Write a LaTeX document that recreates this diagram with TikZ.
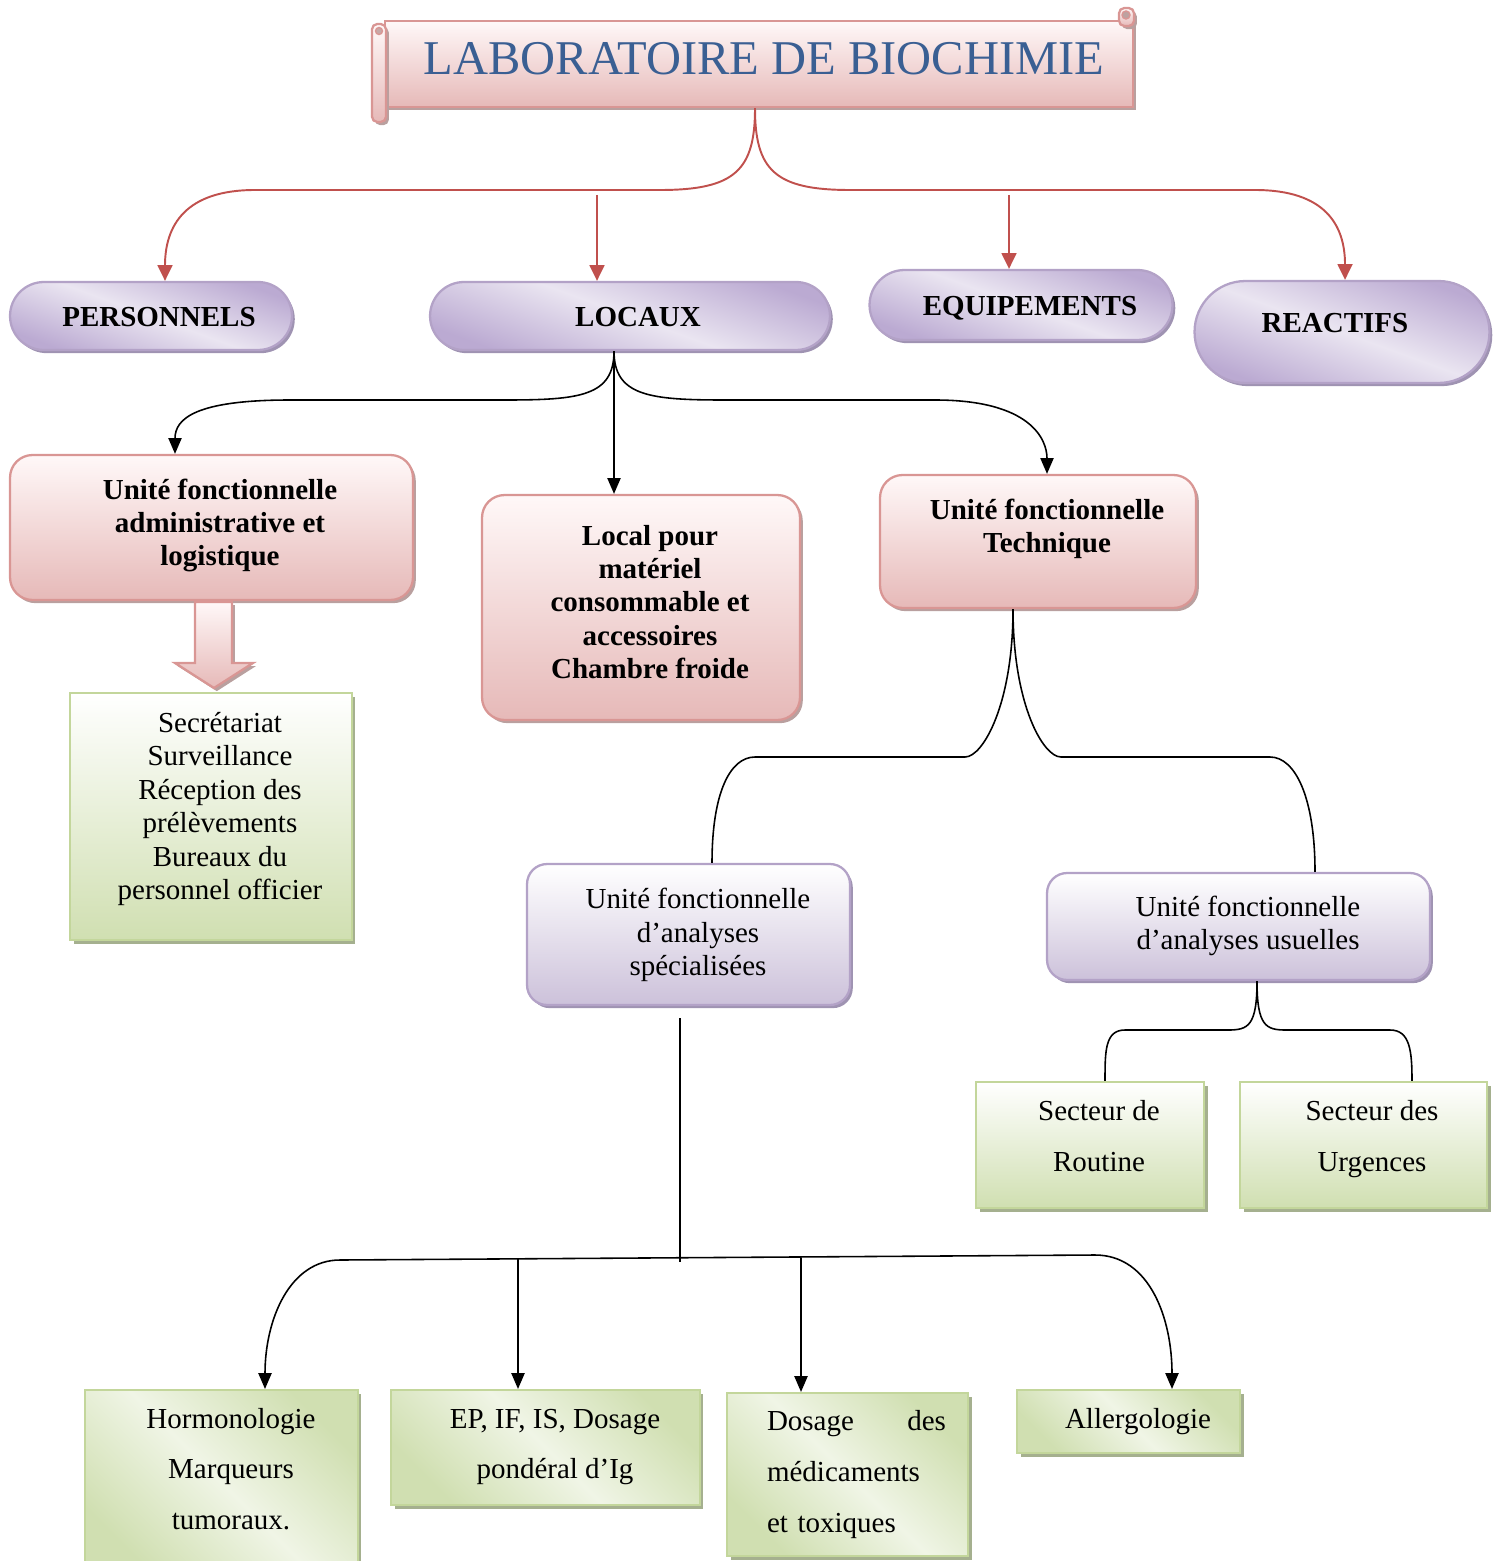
\documentclass[tikz,border=0pt]{standalone}
\usepackage{fontspec}
\setmainfont{Liberation Serif}
\usetikzlibrary{shapes.misc,shadows,arrows.meta}

\definecolor{linkred}{HTML}{C0504D}
\definecolor{pinkedge}{HTML}{D99694}
\definecolor{pinkfill}{HTML}{E6B9B8}
\definecolor{pinklight}{HTML}{FFF8F8}
\definecolor{pinkshadow}{HTML}{B9A09F}
\definecolor{lilacedge}{HTML}{B3A2C7}
\definecolor{lilacdark}{HTML}{BBAAD2}
\definecolor{lilaclight}{HTML}{EAE5F1}
\definecolor{lilacfill}{HTML}{CCC1DA}
\definecolor{lilacshadow}{HTML}{9F93B2}
\definecolor{greenedge}{HTML}{C3D69B}
\definecolor{greenfill}{HTML}{D0DFB1}
\definecolor{greenlight}{HTML}{F0F5E6}
\definecolor{greenshadow}{HTML}{A5B08F}
\definecolor{titleblue}{HTML}{3A5F93}

\tikzset{
  x=0.02cm, y=-0.02cm,
  txt/.style={font=\fontsize{16.5}{19}\selectfont, align=center, inner sep=0pt},
  btxt/.style={font=\fontsize{16.5}{19}\selectfont\bfseries, align=center, inner sep=0pt},
  widetxt/.style={font=\fontsize{16.5}{28.8}\selectfont, align=center, inner sep=0pt},
  pill/.style={rounded rectangle, draw=lilacedge, line width=1.3pt, inner sep=0pt,
    top color=lilacdark, bottom color=lilacdark, middle color=lilaclight, shading angle=-20,
    drop shadow={shadow xshift=1.6pt, shadow yshift=-1.8pt, fill=lilacshadow, opacity=1}},
  pinkbox/.style={rectangle, rounded corners=0.45cm, draw=pinkedge, line width=1.3pt, inner sep=0pt,
    top color=pinklight, bottom color=pinkfill,
    drop shadow={shadow xshift=1.6pt, shadow yshift=-1.8pt, fill=pinkshadow, opacity=1}},
  lilacbox/.style={rectangle, rounded corners=0.4cm, draw=lilacedge, line width=1.3pt, inner sep=0pt,
    top color=white, bottom color=lilacfill,
    drop shadow={shadow xshift=1.6pt, shadow yshift=-1.8pt, fill=lilacshadow, opacity=1}},
  greenbox/.style={rectangle, draw=greenedge, line width=1.2pt, inner sep=0pt,
    top color=white, bottom color=greenfill,
    drop shadow={shadow xshift=2pt, shadow yshift=-2pt, fill=greenshadow, opacity=1}},
  greenbandbox/.style={greenbox, top color=greenfill, bottom color=greenfill,
    middle color=greenlight, shading angle=-45},
  redlink/.style={draw=linkred, line width=1.1pt},
  redarrow/.style={redlink, -{Triangle[width=8.5pt,length=9pt]}},
  blklink/.style={draw=black, line width=0.9pt},
  blkarrow/.style={blklink, -{Triangle[width=7.5pt,length=9pt]}},
}

\begin{document}
\begin{tikzpicture}
\useasboundingbox (0,0) rectangle (1501,1561);

% ---- title scroll ----
\node[pinkbox, rounded corners=0pt, minimum width=14.96cm, minimum height=1.72cm] (title) at (759,64) {};
\path[pinkbox, rounded corners=3pt] (372,24) rectangle (386,122);
\filldraw[draw=pinkedge, fill=pinkfill!70!gray, line width=0.8pt] (379,31) circle (3.5);
\path[pinkbox, rounded corners=3pt] (1119,8) rectangle (1134,26);
\filldraw[draw=pinkedge, fill=pinkfill!60!gray, line width=0.8pt] (1126,15) circle (4);
\node[inner sep=0pt, font=\fontsize{27.6}{30}\selectfont, text=titleblue] (titleT) at (764,59) {LABORATOIRE DE BIOCHIMIE};

% ---- first level ----
\node[pill, minimum width=5.64cm, minimum height=1.36cm] (pers) at (151,316) {};
\node[btxt] (persT) at (159,317) {PERSONNELS};
\node[pill, minimum width=8cm, minimum height=1.36cm] (loc) at (630,316) {};
\node[btxt] (locT) at (638,317) {LOCAUX};
\node[pill, minimum width=6.06cm, minimum height=1.4cm] (equip) at (1021,305) {};
\node[btxt] (equipT) at (1030,308) {EQUIPEMENTS};
\node[pill, minimum width=5.9cm, minimum height=2.04cm] (react) at (1342,332) {};
\node[btxt] (reactT) at (1335,323) {REACTIFS};

% red links from the title
\coordinate (locIn) at (597,195);
\coordinate (equipIn) at (1009,195);
\draw[redarrow] (title.south -| 755,0) .. controls +(0,62) and +(75,0) .. (660,190)
  -- (255,190) .. controls +(-70,0) and +(0,-55) .. (pers.north -| 165,0);
\draw[redarrow] (title.south -| 755,0) .. controls +(0,62) and +(-75,0) .. (850,190)
  -- (1255,190) .. controls +(70,0) and +(0,-55) .. (react.north -| 1345,0);
\draw[redarrow] (locIn) -- (loc.north -| 597,0);
\draw[redarrow] (equipIn) -- (equip.north -| 1009,0);

% ---- LOCAUX ----
\node[pinkbox, minimum width=8.06cm, minimum height=2.9cm] (admin) at (211.5,527.5) {};
\node[btxt] (adminT) at (220,525.5) {Unité fonctionnelle\\administrative et\\logistique};
\node[pinkbox, minimum width=6.36cm, minimum height=4.5cm] (local) at (641,607.5) {};
\node[btxt] (localT) at (650,602) {Local pour\\matériel\\consommable et\\accessoires\\Chambre froide};
\node[pinkbox, minimum width=6.32cm, minimum height=2.66cm] (tech) at (1038,541.5) {};
\node[btxt] (techT) at (1047,529) {Unité fonctionnelle\\Technique};

\draw[blkarrow] (loc.south -| 614,0) .. controls +(0,45) and +(75,0) .. (505,400)
  -- (290,400) .. controls +(-95,0) and +(0,-35) .. (admin.north -| 175,0);
\draw[blkarrow] (loc.south -| 614,0) -- (local.north -| 614,0);
\draw[blkarrow] (loc.south -| 614,0) .. controls +(0,45) and +(-75,0) .. (725,400)
  -- (935,400) .. controls +(95,0) and +(0,-35) .. (tech.north -| 1047,0);

% block arrow and its box
\path[pinkbox, rounded corners=0pt] (195,602) -- (232,602) -- (232,663) -- (253,663)
  -- (214,688) -- (175,663) -- (195,663) -- cycle;
\node[greenbox, minimum width=5.64cm, minimum height=4.94cm] (secr) at (211,816.5) {};
\node[txt] (secrT) at (220,809) {Secrétariat\\Surveillance\\Réception des\\prélèvements\\Bureaux du\\personnel officier};

% ---- technical unit ----
\node[lilacbox, minimum width=6.46cm, minimum height=2.82cm] (spec) at (688.5,934.5) {};
\node[txt] (specT) at (698,935) {Unité fonctionnelle\\d’analyses\\spécialisées};
\node[lilacbox, minimum width=7.66cm, minimum height=2.14cm] (usu) at (1238.5,926.5) {};
\node[txt] (usuT) at (1248,926) {Unité fonctionnelle\\d’analyses usuelles};

\draw[blklink] (tech.south -| 1013,0) .. controls +(0,95) and +(18,0) .. (965,757)
  -- (755,757) .. controls +(-25,0) and +(0,-70) .. (spec.north -| 712,0);
\draw[blklink] (tech.south -| 1013,0) .. controls +(0,95) and +(-18,0) .. (1061,757)
  -- (1270,757) .. controls +(25,0) and +(0,-75) .. (usu.north -| 1315,0);

% ---- routine and emergencies ----
\node[greenbox, minimum width=4.56cm, minimum height=2.52cm] (rout) at (1090,1145) {};
\node[widetxt] (routT) at (1099,1136) {Secteur de\\Routine};
\node[greenbox, minimum width=4.94cm, minimum height=2.52cm] (urg) at (1363.5,1145) {};
\node[widetxt] (urgT) at (1372,1139) {Secteur des\\Urgences};

\draw[blklink] (usu.south -| 1257,0) .. controls +(0,45) and +(20,0) .. (1228,1030)
  -- (1125,1030) .. controls +(-20,0) and +(0,-30) .. (rout.north -| 1105,0);
\draw[blklink] (usu.south -| 1257,0) .. controls +(0,45) and +(-20,0) .. (1286,1030)
  -- (1390,1030) .. controls +(20,0) and +(0,-30) .. (urg.north -| 1412,0);

% ---- specialised analyses ----
\node[greenbandbox, minimum width=5.46cm, minimum height=3.7cm] (horm) at (221.5,1482.5) {};
\node[widetxt] (hormT) at (231,1469) {Hormonologie\\Marqueurs\\tumoraux.};
\node[greenbandbox, minimum width=6.18cm, minimum height=2.3cm] (ep) at (545.5,1447.5) {};
\node[widetxt] (epT) at (555,1447) {EP, IF, IS, Dosage\\pondéral d’Ig};
\node[greenbandbox, minimum width=4.82cm, minimum height=3.26cm] (dos) at (847.5,1474.5) {};
\node[widetxt, align=left, text width=3.58cm] (dosT) at (856.5,1474.5) {Dosage\hfill des\\médicaments\\et toxiques};
\node[greenbandbox, minimum width=4.46cm, minimum height=1.26cm] (allerg) at (1128.5,1421.5) {};
\node[txt] (allergT) at (1138,1422) {Allergologie};

\coordinate (specTail) at (680,1018);
\coordinate (hub) at (680,1258);
\draw[blklink] (specTail) -- ([yshift=-2pt]hub);
\draw[blklink, {Triangle[width=7.5pt,length=9pt]}-{Triangle[width=7.5pt,length=9pt]}]
  (horm.north -| 265,0) .. controls +(0,-70) and +(-50,0) .. (340,1260)
  -- (1095,1255) .. controls +(55,0) and +(0,-70) .. (allerg.north -| 1172,0);
\draw[blkarrow] (hub -| 518,0) -- (ep.north -| 518,0);
\draw[blkarrow] (hub -| 801,0) -- (dos.north -| 801,0);
\end{tikzpicture}
\end{document}
